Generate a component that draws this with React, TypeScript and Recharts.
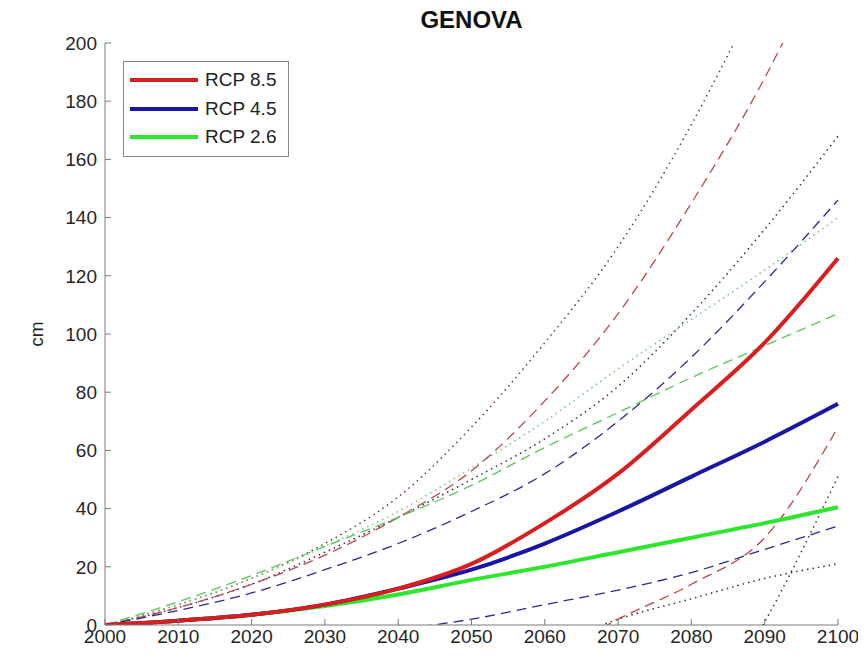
import React from 'react';
import { LineChart, Line, XAxis, YAxis, Legend, Label } from 'recharts';

// sea level rise projections, Genova (cm)
const YEARS = [2000, 2010, 2020, 2030, 2040, 2050, 2060, 2070, 2080, 2090, 2100];

const RCP85_MEAN = [0, 1.5, 3.5, 7, 12.5, 21, 35, 52, 74, 97, 126];
const RCP45_MEAN = [0, 1.5, 3.5, 7, 12.5, 19, 28, 39, 51, 63, 76];
const RCP26_MEAN = [0, 1.5, 3.5, 6.5, 10.5, 15.5, 20, 25, 30, 35, 40.5];

const RCP85_HIGH_DASH = [0, 6, 14, 24, 37, 53, 77, 107, 145, 188, 240];
const RCP85_HIGH_DOT = [0, 7, 16, 28, 44, 68, 97, 130, 172, 222, 280];
const RCP45_HIGH_DASH = [0, 5, 11, 19, 28, 39, 52, 70, 92, 118, 146];
const RCP45_HIGH_DOT = [0, 6, 14, 25, 37, 50, 64, 82, 107, 136, 168];
const RCP26_HIGH_DASH = [0, 8, 17, 27, 37, 48, 61, 73, 85, 96, 107];
const RCP26_HIGH_DOT = [0, 7, 16, 27, 39, 54, 70, 88, 105, 122, 140];

const RCP85_LOW_DASH = [0, -4, -8, -12, -16, -18, -12, 2, 14, 30, 68];
const RCP85_LOW_DOT = [0, -6, -12, -20, -28, -36, -44, -48, -40, 1, 51];
const RCP45_LOW_DASH = [0, -6, -5, -4, -1.5, 2, 7, 12, 18, 26, 34];
const RCP45_LOW_DOT = [0, -5, -10, -14, -16, -14, -8, 2, 9, 16, 21];

const X_TICKS = [2000, 2010, 2020, 2030, 2040, 2050, 2060, 2070, 2080, 2090, 2100];
const Y_TICKS = [0, 20, 40, 60, 80, 100, 120, 140, 160, 180, 200];

const LEGEND_LABELS = ['RCP 8.5', 'RCP 4.5', 'RCP 2.6'];
const LEGEND_COLORS = ['#d81e1e', '#1717a3', '#2fe62f'];

const data = YEARS.map((year, i) => ({
  year,
  rcp85: RCP85_MEAN[i],
  rcp45: RCP45_MEAN[i],
  rcp26: RCP26_MEAN[i],
  rcp85HiDash: RCP85_HIGH_DASH[i],
  rcp85HiDot: RCP85_HIGH_DOT[i],
  rcp45HiDash: RCP45_HIGH_DASH[i],
  rcp45HiDot: RCP45_HIGH_DOT[i],
  rcp26HiDash: RCP26_HIGH_DASH[i],
  rcp26HiDot: RCP26_HIGH_DOT[i],
  rcp85LoDash: RCP85_LOW_DASH[i],
  rcp85LoDot: RCP85_LOW_DOT[i],
  rcp45LoDash: RCP45_LOW_DASH[i],
  rcp45LoDot: RCP45_LOW_DOT[i],
}));

const FONT = '"Liberation Sans", Arial, sans-serif';
const AXIS = '#7a7a7a';
const TICK = { fill: '#262626', fontSize: 19, fontFamily: FONT };

const DASH = '10 6';
const DOT = '1.5 4';

const GenovaLegend = () => (
  <div
    style={{
      border: '1px solid #8a8a8a',
      background: '#fff',
      width: 164,
      padding: '4px 0',
      fontFamily: FONT,
      fontSize: 19,
      color: '#222',
    }}
  >
    {LEGEND_LABELS.map((label, i) => (
      <div key={label} style={{ display: 'flex', alignItems: 'center', height: 28.5 }}>
        <span
          style={{
            display: 'inline-block',
            width: 68,
            height: 4,
            background: LEGEND_COLORS[i],
            marginLeft: 6,
            marginRight: 7,
          }}
        />
        <span>{label}</span>
      </div>
    ))}
  </div>
);

const CmLabel = (props: any) => {
  const { viewBox } = props;
  const x = viewBox.x - 9;
  const y = viewBox.y + viewBox.height / 2;
  return (
    <text
      x={x}
      y={y}
      transform={`rotate(-90 ${x} ${y})`}
      textAnchor="middle"
      dominantBaseline="central"
      fill="#262626"
      fontSize={19}
      fontFamily={FONT}
    >
      cm
    </text>
  );
};

export default function App() {
  return (
    <div style={{ position: 'relative', width: 850, height: 645 }}>
      <div
        style={{
          position: 'absolute',
          left: 97,
          width: 733,
          top: -2,
          textAlign: 'center',
          fontFamily: FONT,
          fontWeight: 'bold',
          fontSize: 24,
          color: '#111',
        }}
      >
        GENOVA
      </div>
      <LineChart width={850} height={645} data={data} margin={{ top: 35, right: 20, bottom: 0, left: 37 }}>
        <XAxis
          dataKey="year"
          type="number"
          domain={[2000, 2100]}
          ticks={X_TICKS}
          stroke={AXIS}
          tickSize={-6}
          tickMargin={11}
          tick={TICK}
          height={28}
        />
        <XAxis
          xAxisId="top"
          dataKey="year"
          type="number"
          orientation="top"
          domain={[2000, 2100]}
          ticks={X_TICKS}
          stroke={AXIS}
          tickSize={-6}
          tick={false}
          height={0}
        />
        <YAxis
          type="number"
          domain={[0, 200]}
          ticks={Y_TICKS}
          allowDataOverflow
          stroke={AXIS}
          tickSize={-6}
          tickMargin={14}
          tick={TICK}
          width={60}
        >
          <Label content={CmLabel} />
        </YAxis>
        <YAxis
          yAxisId="right"
          type="number"
          orientation="right"
          domain={[0, 200]}
          ticks={Y_TICKS}
          stroke={AXIS}
          tickSize={-6}
          tick={false}
          width={0}
        />
        <Legend
          layout="horizontal"
          align="center"
          verticalAlign="middle"
          content={GenovaLegend}
          wrapperStyle={{ position: 'absolute', left: 115, top: 53, width: 'auto', height: 'auto' }}
        />

        <Line type="monotone" dataKey="rcp85HiDot" stroke="#6a3838" strokeWidth={1.5} strokeDasharray={DOT} dot={false} isAnimationActive={false} />
        <Line type="monotone" dataKey="rcp45HiDot" stroke="#2e2e58" strokeWidth={1.5} strokeDasharray={DOT} dot={false} isAnimationActive={false} />
        <Line type="monotone" dataKey="rcp26HiDot" stroke="#76c676" strokeWidth={1.5} strokeDasharray={DOT} dot={false} isAnimationActive={false} />
        <Line type="monotone" dataKey="rcp85LoDot" stroke="#4a3030" strokeWidth={1.5} strokeDasharray={DOT} dot={false} isAnimationActive={false} />
        <Line type="monotone" dataKey="rcp45LoDot" stroke="#2e2e48" strokeWidth={1.5} strokeDasharray={DOT} dot={false} isAnimationActive={false} />

        <Line type="monotone" dataKey="rcp85HiDash" stroke="#b84848" strokeWidth={1.3} strokeDasharray={DASH} dot={false} isAnimationActive={false} />
        <Line type="monotone" dataKey="rcp45HiDash" stroke="#2a2a8c" strokeWidth={1.3} strokeDasharray={DASH} dot={false} isAnimationActive={false} />
        <Line type="monotone" dataKey="rcp26HiDash" stroke="#58c458" strokeWidth={1.3} strokeDasharray={DASH} dot={false} isAnimationActive={false} />
        <Line type="monotone" dataKey="rcp85LoDash" stroke="#b84848" strokeWidth={1.3} strokeDasharray={DASH} dot={false} isAnimationActive={false} />
        <Line type="monotone" dataKey="rcp45LoDash" stroke="#2a2a8c" strokeWidth={1.3} strokeDasharray={DASH} dot={false} isAnimationActive={false} />

        <Line type="monotone" dataKey="rcp26" stroke={LEGEND_COLORS[2]} strokeWidth={4} dot={false} isAnimationActive={false} />
        <Line type="monotone" dataKey="rcp45" stroke={LEGEND_COLORS[1]} strokeWidth={4} dot={false} isAnimationActive={false} />
        <Line type="monotone" dataKey="rcp85" stroke={LEGEND_COLORS[0]} strokeWidth={4} dot={false} isAnimationActive={false} />
      </LineChart>
    </div>
  );
}
